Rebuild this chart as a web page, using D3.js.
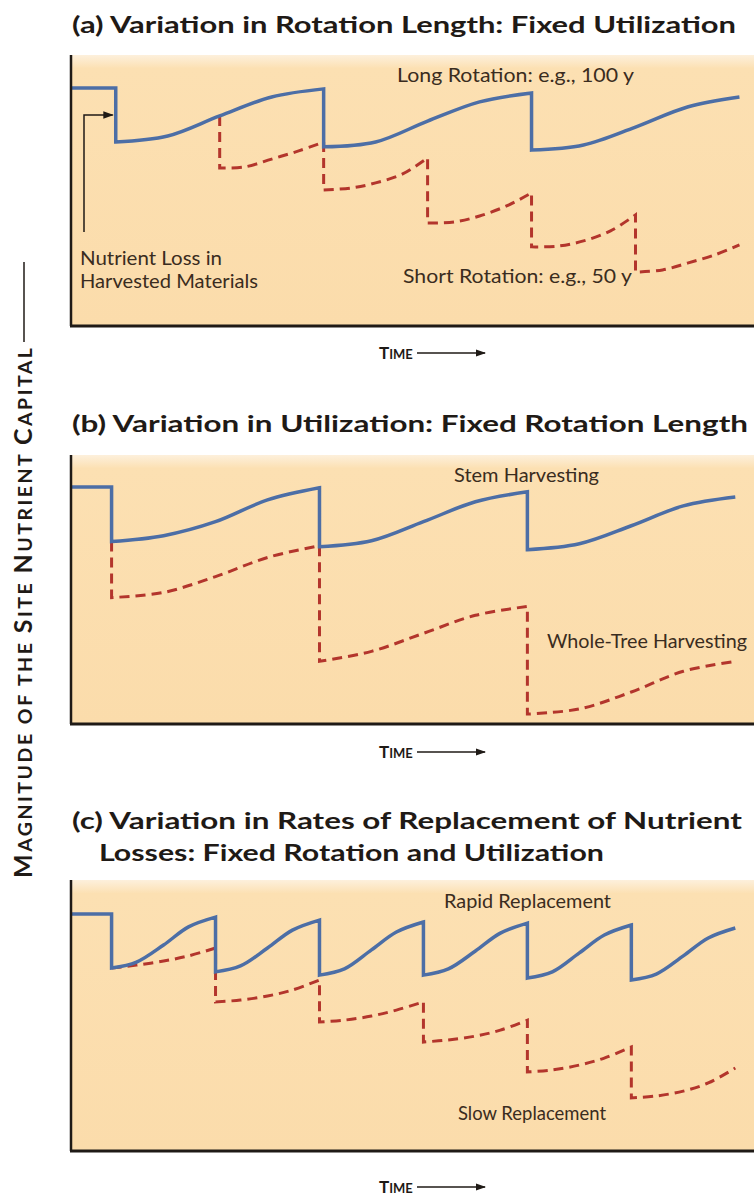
<!DOCTYPE html>
<html>
<head>
<meta charset="utf-8">
<script src="https://cdn.jsdelivr.net/npm/d3@7"></script>
<style>
  body { margin: 0; background: #ffffff; }
  svg { display: block; }
</style>
</head>
<body>
<div id="chart"></div>
<script>
// ---------------- DATA ----------------
// Time in years (x), magnitude of site nutrient capital in relative units 0-100 (y).
// Each series is a list of segments; consecutive segments are joined by a vertical drop (harvest).

// (a) Variation in rotation length
const longRotation = [
  [[0, 87.8], [22, 87.8]],
  [[22, 67.9], [47, 70.1], [72, 77.5], [97, 84.5], [122, 87.5]],
  [[122, 66.1], [147, 67.9], [172, 75.6], [197, 82.7], [222, 86.0]],
  [[222, 64.9], [247, 66.8], [272, 73.4], [297, 80.8], [322, 84.5]]
];
const shortRotation = [
  [[72, 77.5]],
  [[72, 58.3], [84, 58.7], [97, 61.6], [110, 64.6], [122, 67.9]],
  [[122, 50.2], [135, 50.9], [147, 52.8], [160, 56.1], [172, 62.0]],
  [[172, 38.0], [185, 38.4], [197, 40.6], [210, 44.3], [222, 49.1]],
  [[222, 29.2], [235, 29.5], [247, 31.4], [260, 35.1], [272, 41.0]],
  [[272, 19.9], [285, 20.7], [297, 23.2], [310, 26.2], [322, 29.9]]
];

// (b) Variation in utilization
const stemHarvest = [
  [[0, 88.1], [20, 88.1]],
  [[20, 67.8], [45, 70.0], [70, 75.2], [95, 83.3], [120, 87.8]],
  [[120, 65.9], [145, 68.1], [170, 75.2], [195, 82.6], [220, 86.3]],
  [[220, 64.8], [245, 67.0], [270, 73.7], [295, 81.1], [320, 84.4]]
];
const wholeTreeHarvest = [
  [[20, 67.8]],
  [[20, 47.0], [45, 48.9], [70, 54.8], [95, 61.9], [120, 66.3]],
  [[120, 23.3], [145, 27.0], [170, 33.7], [195, 40.4], [220, 43.7]],
  [[220, 3.7], [245, 5.6], [270, 11.9], [295, 19.6], [320, 23.3]]
];

// (c) Variation in rates of replacement
const rapidReplacement = [
  [[0, 87.5], [20, 87.5]],
  [[20, 67.5], [32, 69.7], [45, 76.0], [57, 82.7], [70, 86.3]],
  [[70, 66.1], [82, 68.3], [95, 74.9], [107, 81.5], [120, 85.2]],
  [[120, 64.9], [132, 67.2], [145, 74.2], [157, 80.8], [170, 84.5]],
  [[170, 64.9], [182, 67.2], [195, 73.8], [207, 80.4], [220, 84.1]],
  [[220, 63.8], [232, 66.1], [245, 73.1], [257, 79.7], [270, 83.4]],
  [[270, 63.1], [282, 65.3], [295, 72.0], [307, 78.6], [320, 82.3]]
];
const slowReplacement = [
  [[20, 67.5], [32, 68.6], [45, 70.1], [57, 72.0], [70, 74.9]],
  [[70, 55.0], [82, 55.7], [95, 57.2], [107, 59.4], [120, 63.1]],
  [[120, 47.6], [132, 48.3], [145, 49.8], [157, 52.0], [170, 55.0]],
  [[170, 40.2], [182, 41.0], [195, 42.4], [207, 44.6], [220, 48.3]],
  [[220, 29.2], [232, 29.9], [245, 31.7], [257, 34.3], [270, 38.4]],
  [[270, 19.6], [282, 20.3], [295, 22.1], [307, 25.1], [320, 30.6]]
];

// Text
const panelTitles = [
  ["(a) Variation in Rotation Length: Fixed Utilization"],
  ["(b) Variation in Utilization: Fixed Rotation Length"],
  ["(c) Variation in Rates of Replacement of Nutrient", "Losses: Fixed Rotation and Utilization"]
];
const seriesLabels = [
  ["Long Rotation: e.g., 100 y", "Short Rotation: e.g., 50 y"],
  ["Stem Harvesting", "Whole-Tree Harvesting"],
  ["Rapid Replacement", "Slow Replacement"]
];
const annotationLines = ["Nutrient Loss in", "Harvested Materials"];
const xAxisLabel = "Time";
const yAxisLabel = "Magnitude of the Site Nutrient Capital";

// ---------------- LAYOUT ----------------
const W = 754, H = 1199;
const plotLeft = 70, plotRight = 754;
const panels = [
  { top: 55, bottom: 326, titleY: [33], timeY: 359,
    blue: longRotation, red: shortRotation,
    titleLen: [664],
    labels: [{ x: 397, y: 82, len: 237 }, { x: 403, y: 283, len: 229 }] },
  { top: 455, bottom: 724, titleY: [432], timeY: 758,
    blue: stemHarvest, red: wholeTreeHarvest,
    titleLen: [676],
    labels: [{ x: 454, y: 482, len: 145 }, { x: 547, y: 648, len: 200 }] },
  { top: 880, bottom: 1151, titleY: [829, 861], timeY: 1193,
    blue: rapidReplacement, red: slowReplacement,
    titleLen: [670, 505],
    labels: [{ x: 444, y: 908, len: 167 }, { x: 458, y: 1120, len: 148 }] }
];

const BG = "#fbdcab";
const BLUE = "#4c6ea6";
const RED = "#b3352c";
const INK = "#1f1a16";
const LABEL_INK = "#3a2c20";

const svg = d3.select("#chart").append("svg")
  .attr("width", W).attr("height", H)
  .style("font-family", "Lato, 'Open Sans', sans-serif");

const defs = svg.append("defs");
const grad = defs.append("linearGradient").attr("id", "bgfade")
  .attr("x1", 0).attr("y1", 0).attr("x2", 0).attr("y2", 1);
grad.append("stop").attr("offset", "0%").attr("stop-color", "#fdf0dc");
grad.append("stop").attr("offset", "5%").attr("stop-color", "#fce0b2");
grad.append("stop").attr("offset", "100%").attr("stop-color", BG);

defs.append("marker").attr("id", "arrowHead")
  .attr("viewBox", "0 0 10 10").attr("refX", 9).attr("refY", 5)
  .attr("markerWidth", 7).attr("markerHeight", 7).attr("orient", "auto")
  .append("path").attr("d", "M0,1.5 L10,5 L0,8.5 Z").attr("fill", INK);

const x = d3.scaleLinear().domain([0, 329]).range([plotLeft, plotRight]);

function segPath(segs, line) {
  return segs.map((s, i) => {
    let d = line(s).replace(/Z$/, "");
    return i ? d.replace(/^M/, "L") : d;
  }).join("");
}

// small caps: capital letters large, lower-case letters as small capitals
function smallCaps(textSel, str, big, small) {
  let run = "", runBig = null;
  const flush = () => {
    if (run) textSel.append("tspan").attr("font-size", runBig ? big : small).text(run.toUpperCase());
    run = "";
  };
  for (const ch of str) {
    const isBig = ch !== " " && ch === ch.toUpperCase();
    const b = ch === " " ? runBig : isBig;
    if (runBig !== null && b !== runBig) flush();
    runBig = b;
    run += ch;
  }
  flush();
}

panels.forEach((p, pi) => {
  const g = svg.append("g");
  const y = d3.scaleLinear().domain([0, 100]).range([p.bottom, p.top]);
  const line = d3.line().x(d => x(d[0])).y(d => y(d[1])).curve(d3.curveCatmullRom.alpha(0.5));

  // title
  const tLines = panelTitles[pi];
  let indent = 0;
  tLines.forEach((t, li) => {
    g.append("text")
      .attr("x", 72 + (li > 0 ? indent : 0)).attr("y", p.titleY[li])
      .attr("font-size", 23).attr("font-weight", 700).attr("fill", INK)
      .attr("textLength", p.titleLen[li]).attr("lengthAdjust", "spacingAndGlyphs")
      .text(t);
    if (li === 0 && tLines.length > 1) {
      const probe = g.append("text").attr("font-size", 23).attr("font-weight", 700)
        .text(t.split(" ")[0] + " ");
      const natural = g.append("text").attr("font-size", 23).attr("font-weight", 700).text(t);
      const ratio = p.titleLen[0] / natural.node().getComputedTextLength();
      indent = probe.node().getComputedTextLength() * ratio - 4;
      probe.remove(); natural.remove();
    }
  });

  // background
  g.append("rect")
    .attr("x", plotLeft).attr("y", p.top)
    .attr("width", plotRight - plotLeft).attr("height", p.bottom - p.top)
    .attr("fill", "url(#bgfade)");

  // series
  g.append("path").attr("d", segPath(p.red, line))
    .attr("fill", "none").attr("stroke", RED).attr("stroke-width", 3)
    .attr("stroke-dasharray", "10,6").attr("stroke-linejoin", "miter");
  g.append("path").attr("d", segPath(p.blue, line))
    .attr("fill", "none").attr("stroke", BLUE).attr("stroke-width", 3.5)
    .attr("stroke-linejoin", "miter");

  // axes (no ticks)
  g.append("line").attr("x1", plotLeft + 1).attr("x2", plotLeft + 1)
    .attr("y1", p.top).attr("y2", p.bottom)
    .attr("stroke", INK).attr("stroke-width", 2.5);
  g.append("line").attr("x1", plotLeft).attr("x2", plotRight)
    .attr("y1", p.bottom).attr("y2", p.bottom)
    .attr("stroke", INK).attr("stroke-width", 3);

  // series labels
  seriesLabels[pi].forEach((lab, li) => {
    const L = p.labels[li];
    g.append("text").attr("x", L.x).attr("y", L.y)
      .attr("font-size", 19).attr("fill", LABEL_INK)
      .attr("textLength", L.len).attr("lengthAdjust", "spacingAndGlyphs")
      .text(lab);
  });

  // time axis label
  const tl = g.append("text").attr("x", 379).attr("y", p.timeY)
    .attr("font-weight", 700).attr("fill", INK);
  smallCaps(tl, xAxisLabel, 17, 13);
  g.append("line").attr("x1", 417).attr("x2", 485)
    .attr("y1", p.timeY - 6).attr("y2", p.timeY - 6)
    .attr("stroke", INK).attr("stroke-width", 1.5)
    .attr("marker-end", "url(#arrowHead)");

  // annotation in panel (a)
  if (pi === 0) {
    const harvest = longRotation[1][0][0];
    const tipX = x(harvest) - 3;
    const tipY = y((longRotation[0][1][1] + longRotation[1][0][1]) / 2);
    g.append("path")
      .attr("d", `M${84},${232} L${84},${tipY} L${tipX},${tipY}`)
      .attr("fill", "none").attr("stroke", INK).attr("stroke-width", 1.5)
      .attr("marker-end", "url(#arrowHead)");
    annotationLines.forEach((t, i) => {
      g.append("text").attr("x", 80).attr("y", 265 + i * 23)
        .attr("font-size", 19).attr("fill", LABEL_INK)
        .attr("textLength", i === 0 ? 142 : 178).attr("lengthAdjust", "spacingAndGlyphs")
        .text(t);
    });
  }
});

// vertical y-axis label
const yLabelStart = 878, yLabelLen = 530;
const yl = svg.append("text")
  .attr("transform", `translate(32,${yLabelStart}) rotate(-90)`)
  .attr("font-weight", 700).attr("fill", INK)
  .attr("textLength", yLabelLen).attr("lengthAdjust", "spacing");
smallCaps(yl, yAxisLabel, 25, 19.5);
svg.append("line")
  .attr("x1", 24).attr("x2", 24)
  .attr("y1", yLabelStart - yLabelLen - 6).attr("y2", 262)
  .attr("stroke", INK).attr("stroke-width", 1.5);
</script>
</body>
</html>
